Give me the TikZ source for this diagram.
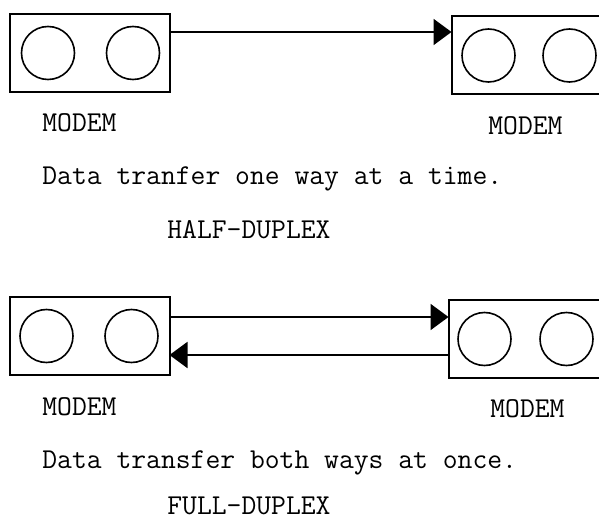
\documentclass[tikz,border=0pt]{standalone}
\usepackage{fontspec}
\usetikzlibrary{arrows.meta,positioning,calc}

\begin{document}
\begin{tikzpicture}[
  x=0.5pt, y=-0.5pt, >={Triangle[length=9pt,width=13pt]},
  modem/.style={draw, line width=1pt, minimum width=80pt, minimum height=39pt, inner sep=0pt, outer sep=0pt},
  knob/.style={draw, circle, line width=0.8pt, minimum size=26.5pt, inner sep=0pt},
  lbl/.style={font=\ttfamily\fontsize{14.4}{17}\selectfont, inner sep=0pt, anchor=base west},
  arr/.style={->, line width=1pt}]
\useasboundingbox (0,0) rectangle (599,518);
\clip (0,0) rectangle (599,518);
% half duplex
\node[modem] (hA) at (90,53) {};
\node[knob] (hAl) at ([xshift=-21pt]hA.center) {};
\node[knob] (hAr) at ([xshift=21.5pt]hA.center) {};
\node[modem] (hB) at (531.5,55.5) {};
\node[knob] (hBl) at ([xshift=-21.5pt]hB.center) {};
\node[knob] (hBr) at ([xshift=19pt]hB.center) {};
\draw[arr] ([yshift=10.5pt]hA.east) -- ([yshift=10.5pt]hA.east -| hB.west);
\node[lbl] (hAt) at (42,132) {MODEM};
\node[lbl] (hBt) at (488,135) {MODEM};
\node[lbl] (hdesc) at (42,185) {Data tranfer one way at a time.};
\node[lbl] (hname) at (167,238) {HALF-DUPLEX};
% full duplex
\node[modem] (fA) at (89.5,336) {};
\node[knob] (fAl) at ([xshift=-21.5pt]fA.center) {};
\node[knob] (fAr) at ([xshift=21pt]fA.center) {};
\node[modem] (fB) at (528.5,339) {};
\node[knob] (fBl) at ([xshift=-22pt]fB.center) {};
\node[knob] (fBr) at ([xshift=19pt]fB.center) {};
\draw[arr] ([yshift=9.5pt]fA.east) -- ([yshift=9.5pt]fA.east -| fB.west);
\draw[arr] ([yshift=-8pt]fB.west) -- ([yshift=-8pt]fB.west -| fA.east);
\node[lbl] (fAt) at (42,415) {MODEM};
\node[lbl] (fBt) at (490,417) {MODEM};
\node[lbl] (fdesc) at (42,468) {Data transfer both ways at once.};
\node[lbl] (fname) at (167,514) {FULL-DUPLEX};
\end{tikzpicture}
\end{document}
